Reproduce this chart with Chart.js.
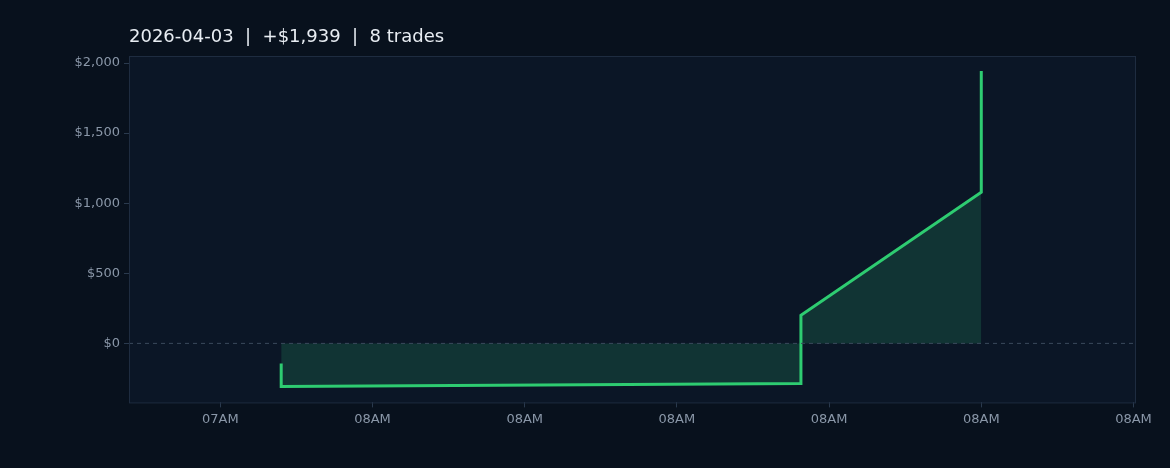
<!DOCTYPE html>
<html><head><meta charset="utf-8">
<script src="https://cdn.jsdelivr.net/npm/chart.js@4"></script>
<style>html,body{margin:0;background:#08111d}#w{width:1170px;height:468px}</style>
</head><body><div id="w"><canvas id="c"></canvas></div>
<script>
const xLabels = ['07AM', '08AM', '08AM', '08AM', '08AM', '08AM', '08AM']
const xValues = [0.40, 0.40, 3.815, 3.815, 5.0, 5.0]
const pnl = [-143, -307, -286, 200, 1079, 1943]
const yTicks = [0, 500, 1000, 1500, 2000]
const titleText = '2026-04-03  |  +$1,939  |  8 trades'

const fmt = v => (v < 0 ? '-$' : '$') + Math.abs(v).toLocaleString('en-US')

const panel = {
  id: 'panel',
  beforeDraw (chart) {
    const { ctx, chartArea: a } = chart
    ctx.save()
    ctx.fillStyle = '#0b1626'
    ctx.fillRect(a.left, a.top, a.right - a.left, a.bottom - a.top)
    ctx.restore()
  },
  afterDatasetsDraw (chart) {
    const { ctx, chartArea: a, scales } = chart
    const y0 = scales.y.getPixelForValue(0)
    ctx.save()
    ctx.strokeStyle = '#3a4a5c'
    ctx.setLineDash([4, 4])
    ctx.lineWidth = 1
    ctx.beginPath(); ctx.moveTo(a.left, y0); ctx.lineTo(a.right, y0); ctx.stroke()
    ctx.setLineDash([])
    ctx.strokeStyle = '#1e2c40'
    ctx.strokeRect(a.left + 0.5, a.top + 0.5, a.right - a.left, a.bottom - a.top)
    ctx.fillStyle = '#e8edf3'
    ctx.font = '18px "DejaVu Sans"'
    ctx.textBaseline = 'alphabetic'
    ctx.fillText(titleText, a.left, 42)
    ctx.restore()
  }
}

new Chart(document.getElementById('c'), {
  type: 'line',
  data: {
    datasets: [{
      data: xValues.map((x, i) => ({ x, y: pnl[i] })),
      borderColor: '#2ecc71',
      borderWidth: 3,
      backgroundColor: 'rgba(30,110,80,0.35)',
      fill: 'origin',
      pointRadius: 0,
      tension: 0
    }]
  },
  options: {
    responsive: true,
    maintainAspectRatio: false,
    animation: false,
    layout: { padding: { top: 56, right: 35, left: 10, bottom: 37 } },
    plugins: { legend: { display: false }, tooltip: { enabled: false } },
    scales: {
      x: {
        type: 'linear', min: -0.6, max: 6.01,
        afterBuildTicks: s => { s.ticks = xLabels.map((_, i) => ({ value: i })) },
        ticks: { color: '#8a97a8', font: { size: 13, family: 'DejaVu Sans' }, callback: (v) => xLabels[v], padding: 4 },
        grid: { drawOnChartArea: false, color: '#2a3a4e', tickLength: 5 },
        border: { display: false }
      },
      y: {
        min: -421, max: 2050,
        afterBuildTicks: s => { s.ticks = yTicks.map(v => ({ value: v })) },
        afterFit: s => { s.width = 119 },
        ticks: { color: '#8a97a8', font: { size: 13, family: 'DejaVu Sans' }, callback: fmt, padding: 4 },
        grid: { drawOnChartArea: false, color: '#2a3a4e', tickLength: 5 },
        border: { display: false }
      }
    }
  },
  plugins: [panel]
})
</script></body></html>
